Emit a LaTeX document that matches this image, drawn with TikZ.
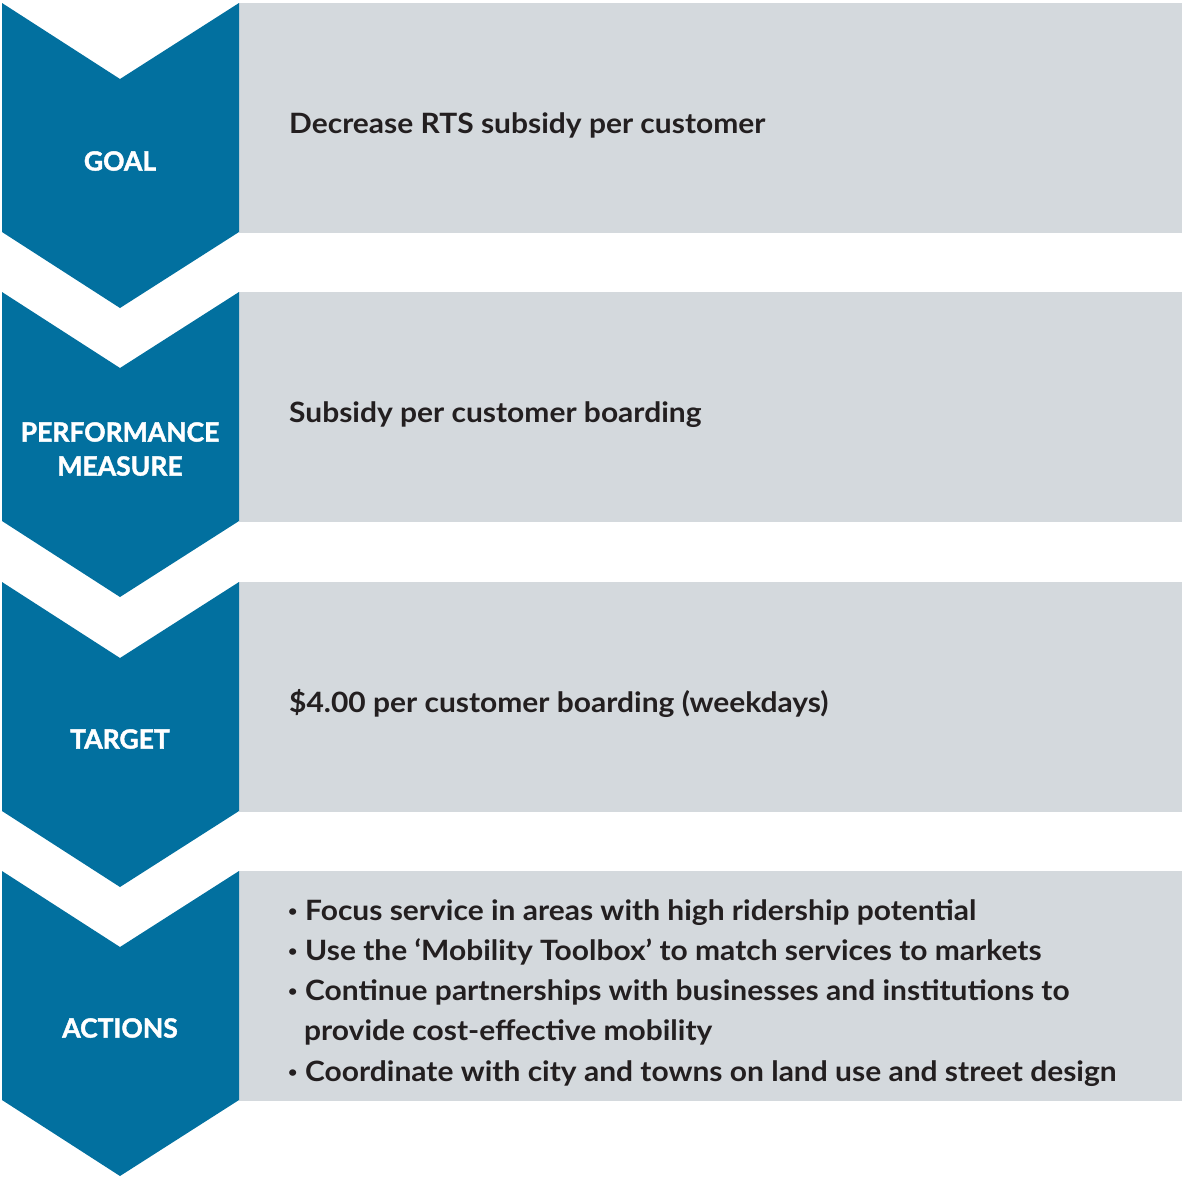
\documentclass[tikz,border=0pt]{standalone}
\usepackage{fontspec}
\setmainfont{Lato}[FakeStretch=1.07]
\newfontfamily\lblfont{Lato}[FakeBold=1.6]
\usepackage{xcolor}
\usepackage{tikz}
\usetikzlibrary{positioning}
\definecolor{rtsblue}{HTML}{02709F}
\definecolor{panelgrey}{HTML}{D4D9DD}
\definecolor{inkdark}{HTML}{231F20}

\begin{document}
\begin{tikzpicture}[
  x=1pt, y=-1pt,
  chev/.style={fill=rtsblue, draw=none},
  panel/.style={fill=panelgrey, draw=none},
  lbl/.style={text=white, font=\lblfont\bfseries\fontsize{26.5}{34}\selectfont, align=center, inner sep=0pt},
  body/.style={text=inkdark, font=\bfseries\fontsize{28}{40}\selectfont, anchor=base west, inner sep=0pt},
  dot/.style={body, font=\bfseries\fontsize{15}{15}\selectfont},
]
\useasboundingbox (0,0) rectangle (1182,1176);
% ---------------- chevrons and panels ----------------
\foreach \top in {3,292,582,871}{
  \fill[panel] (239,\top) rectangle (1182,\top+230);
  \fill[chev] (2,\top) -- (120,\top+76) -- (239,\top) -- (239,\top+229)
    -- (120,\top+305) -- (2,\top+229) -- cycle;
}
% ---------------- labels ----------------
\node[lbl] (goal) at (120,161) {GOAL};
\node[lbl] (measure) at (120,449) {PERFORMANCE\\MEASURE};
\node[lbl] (target) at (120,739) {TARGET};
\node[lbl] (actions) at (120,1028) {ACTIONS};
% ---------------- panel texts ----------------
\node[body] (goaltxt) at (289,133) {Decrease RTS subsidy per customer};
\node[body] (measuretxt) at (289,422) {Subsidy per customer boarding};
\node[body] (targettxt) at (289,712) {\$4.00 per customer boarding (weekdays)};
% ---------------- action list ----------------
\node[dot] (b1) at (288,916) {•};
\node[body] (act1) at (305,920) {Focus service in areas with high ridership potential};
\node[dot] (b2) at (288,956) {•};
\node[body] (act2) at (305,960) {Use the ‘Mobility Toolbox’ to match services to markets};
\node[dot] (b3) at (288,996) {•};
\node[body] (act3) at (305,1000) {Continue partnerships with businesses and institutions to};
\node[body] (act3b) at (304,1040) {provide cost-effective mobility};
\node[dot] (b4) at (288,1077) {•};
\node[body] (act4) at (305,1081) {Coordinate with city and towns on land use and street design};
\end{tikzpicture}
\end{document}
